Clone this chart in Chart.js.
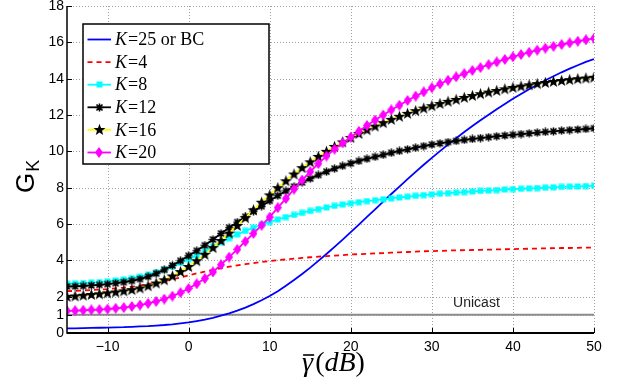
<!DOCTYPE html>
<html>
<head>
<meta charset="utf-8">
<script src="https://cdn.jsdelivr.net/npm/chart.js@4.4.0/dist/chart.umd.min.js"></script>
<style>
  html, body { margin: 0; padding: 0; background: #fff; }
</style>
</head>
<body>
<canvas id="gainChart" width="619" height="381"></canvas>
<script>
// average SNR in dB (one point per dB)
const snrDb = [-15, -14, -13, -12, -11, -10, -9, -8, -7, -6, -5, -4, -3, -2, -1,
  0, 1, 2, 3, 4, 5, 6, 7, 8, 9, 10, 11, 12, 13, 14, 15, 16, 17, 18, 19, 20,
  21, 22, 23, 24, 25, 26, 27, 28, 29, 30, 31, 32, 33, 34, 35, 36, 37, 38, 39, 40,
  41, 42, 43, 44, 45, 46, 47, 48, 49, 50];

const gainK25 = [0.25, 0.26, 0.27, 0.28, 0.29, 0.30, 0.31, 0.32, 0.34, 0.36, 0.38, 0.41, 0.44, 0.48, 0.53,
  0.58, 0.65, 0.73, 0.83, 0.95, 1.08, 1.23, 1.40, 1.59, 1.80, 2.04, 2.30, 2.60, 2.92, 3.25, 3.60,
  3.97, 4.35, 4.74, 5.14, 5.55, 5.97, 6.39, 6.81, 7.23, 7.65, 8.06, 8.47, 8.87, 9.26, 9.64,
  10.01, 10.37, 10.72, 11.06, 11.39, 11.71, 12.02, 12.32, 12.61, 12.89, 13.16, 13.42, 13.67,
  13.91, 14.13, 14.35, 14.55, 14.74, 14.92, 15.08];
const gainK4 = [2.30, 2.32, 2.34, 2.36, 2.39, 2.42, 2.46, 2.50, 2.55, 2.61, 2.68, 2.76, 2.85, 2.95, 3.06,
  3.17, 3.28, 3.38, 3.48, 3.57, 3.65, 3.72, 3.79, 3.85, 3.91, 3.96, 4.01, 4.05, 4.09, 4.13, 4.17,
  4.20, 4.23, 4.26, 4.29, 4.32, 4.34, 4.36, 4.38, 4.40, 4.42, 4.44, 4.46, 4.48, 4.50, 4.51,
  4.52, 4.54, 4.55, 4.56, 4.57, 4.58, 4.59, 4.60, 4.61, 4.62, 4.63, 4.64, 4.65, 4.66, 4.67,
  4.68, 4.68, 4.69, 4.70, 4.70];
const gainK8 = [2.72, 2.73, 2.75, 2.77, 2.80, 2.84, 2.89, 2.95, 3.02, 3.11, 3.22, 3.35, 3.50, 3.67, 3.86,
  4.06, 4.27, 4.50, 4.75, 5.00, 5.22, 5.43, 5.62, 5.80, 5.96, 6.11, 6.25, 6.38, 6.50, 6.61, 6.72,
  6.82, 6.91, 7.00, 7.07, 7.14, 7.20, 7.26, 7.31, 7.36, 7.41, 7.46, 7.50, 7.55, 7.59, 7.63,
  7.67, 7.70, 7.73, 7.76, 7.79, 7.82, 7.85, 7.87, 7.90, 7.92, 7.94, 7.96, 7.98, 8.00, 8.02,
  8.04, 8.06, 8.07, 8.09, 8.11];
const gainK12 = [2.56, 2.57, 2.59, 2.62, 2.65, 2.69, 2.74, 2.80, 2.87, 2.97, 3.10, 3.27, 3.48, 3.72, 3.98,
  4.25, 4.53, 4.83, 5.15, 5.48, 5.80, 6.10, 6.40, 6.70, 6.98, 7.28, 7.56, 7.82, 8.06, 8.29, 8.50,
  8.70, 8.88, 9.05, 9.20, 9.34, 9.47, 9.59, 9.70, 9.81, 9.92, 10.02, 10.11, 10.20, 10.29, 10.37,
  10.44, 10.51, 10.57, 10.63, 10.68, 10.73, 10.78, 10.83, 10.87, 10.91, 10.95, 10.99, 11.03,
  11.07, 11.10, 11.14, 11.17, 11.20, 11.23, 11.27];
const gainK16 = [2.01, 2.04, 2.08, 2.12, 2.16, 2.21, 2.26, 2.32, 2.39, 2.48, 2.60, 2.75, 2.93, 3.14, 3.38,
  3.66, 3.98, 4.33, 4.70, 5.09, 5.50, 5.92, 6.35, 6.78, 7.20, 7.60, 8.00, 8.38, 8.75, 9.10, 9.42,
  9.72, 10.00, 10.27, 10.52, 10.76, 10.98, 11.19, 11.39, 11.58, 11.76, 11.93, 12.09, 12.24, 12.38, 12.51,
  12.63, 12.75, 12.86, 12.97, 13.07, 13.17, 13.26, 13.35, 13.44, 13.52, 13.59, 13.66, 13.73,
  13.79, 13.85, 13.90, 13.95, 14.00, 14.04, 14.08];
const gainK20 = [1.22, 1.23, 1.25, 1.27, 1.29, 1.32, 1.36, 1.40, 1.46, 1.54, 1.63, 1.74, 1.87, 2.03, 2.22,
  2.45, 2.71, 3.00, 3.36, 3.76, 4.18, 4.60, 5.04, 5.48, 5.93, 6.38, 6.90, 7.40, 7.92, 8.42, 8.88,
  9.32, 9.74, 10.12, 10.46, 10.78, 11.10, 11.42, 11.72, 12.00, 12.28, 12.54, 12.80, 13.04, 13.27, 13.50,
  13.71, 13.91, 14.10, 14.28, 14.45, 14.61, 14.77, 14.92, 15.06, 15.20, 15.33, 15.45, 15.57,
  15.68, 15.78, 15.88, 15.97, 16.06, 16.14, 16.22];

const unicastDb = [-15, 50];
const unicastGain = [1, 1];

const xTicks = [-10, 0, 10, 20, 30, 40, 50];
const yTicks = [0, 1, 2, 4, 6, 8, 10, 12, 14, 16, 18];

// marker images (MATLAB style)
function makeMarker(w, h, draw) {
  const c = document.createElement("canvas");
  c.width = w;
  c.height = h;
  draw(c.getContext("2d"), w, h);
  return c;
}

const squareMark = makeMarker(7, 7, (g) => {
  g.fillStyle = "#00ffff";
  g.fillRect(0.5, 0.5, 6, 6);
});

const asteriskMark = makeMarker(9, 9, (g) => {
  g.strokeStyle = "#000";
  g.lineWidth = 1.6;
  g.beginPath();
  g.moveTo(1.5, 1.5); g.lineTo(7.5, 7.5);
  g.moveTo(7.5, 1.5); g.lineTo(1.5, 7.5);
  g.moveTo(4.5, 0.5); g.lineTo(4.5, 8.5);
  g.moveTo(0.5, 4.5); g.lineTo(8.5, 4.5);
  g.stroke();
});

const starMark = makeMarker(13, 13, (g) => {
  g.fillStyle = "#000";
  g.beginPath();
  for (let i = 0; i < 10; i++) {
    const r = i % 2 === 0 ? 6.3 : 2.6;
    const a = -Math.PI / 2 + (i * Math.PI) / 5;
    const px = 6.5 + r * Math.cos(a);
    const py = 7 + r * Math.sin(a);
    if (i === 0) g.moveTo(px, py);
    else g.lineTo(px, py);
  }
  g.closePath();
  g.fill();
});

const diamondMark = makeMarker(8, 11, (g) => {
  g.fillStyle = "#ff00ff";
  g.beginPath();
  g.moveTo(4, 0);
  g.lineTo(8, 5.5);
  g.lineTo(4, 11);
  g.lineTo(0, 5.5);
  g.closePath();
  g.fill();
});

function points(xs, ys) {
  return xs.map((x, i) => ({ x: x, y: ys[i] }));
}

const series = [
  { label: "K=25 or BC", data: points(snrDb, gainK25), borderColor: "#0000ff", borderWidth: 1.8, pointRadius: 0, order: 6 },
  { label: "K=4", data: points(snrDb, gainK4), borderColor: "#ff0000", borderWidth: 1.8, borderDash: [5, 4], pointRadius: 0, order: 5 },
  { label: "K=8", data: points(snrDb, gainK8), borderColor: "#00ffff", borderWidth: 1.8, pointStyle: squareMark, pointRadius: 3, order: 4 },
  { label: "K=12", data: points(snrDb, gainK12), borderColor: "#000000", borderWidth: 1.8, pointStyle: asteriskMark, pointRadius: 3, order: 3 },
  { label: "K=16", data: points(snrDb, gainK16), borderColor: "#ffff00", borderWidth: 1.8, pointStyle: starMark, pointRadius: 4, order: 2 },
  { label: "K=20", data: points(snrDb, gainK20), borderColor: "#ff00ff", borderWidth: 1.8, pointStyle: diamondMark, pointRadius: 4, order: 1 },
];

const unicastSet = {
  label: "Unicast",
  data: points(unicastDb, unicastGain),
  borderColor: "#8c8c8c",
  borderWidth: 2,
  pointRadius: 0,
  order: 7,
};

function line(ctx, x1, y1, x2, y2) {
  ctx.beginPath();
  ctx.moveTo(x1, y1);
  ctx.lineTo(x2, y2);
  ctx.stroke();
}

// grid, axes, tick labels, titles and legend drawn MATLAB-like
const matlabFrame = {
  id: "matlabFrame",
  beforeDatasetsDraw(chart) {
    const { ctx, chartArea: a, scales: { x, y } } = chart;
    ctx.save();
    ctx.strokeStyle = "#a0a0a0";
    ctx.lineWidth = 1;
    ctx.setLineDash([1, 2]);
    xTicks.forEach((v) => {
      const px = Math.round(x.getPixelForValue(v)) + 0.5;
      line(ctx, px, a.top, px, a.bottom);
    });
    yTicks.forEach((v) => {
      if (v === 0) return;
      const py = Math.round(y.getPixelForValue(v)) + 0.5;
      line(ctx, a.left, py, a.right, py);
    });
    ctx.restore();
  },
  afterDatasetsDraw(chart) {
    const { ctx, chartArea: a, scales: { x, y } } = chart;
    ctx.save();

    // axes
    ctx.strokeStyle = "#000";
    ctx.lineWidth = 1.5;
    line(ctx, a.left, a.top, a.left, a.bottom + 0.75);
    ctx.lineWidth = 2;
    line(ctx, a.left, a.bottom, a.right, a.bottom);

    // inward ticks
    ctx.lineWidth = 1;
    xTicks.forEach((v) => {
      const px = Math.round(x.getPixelForValue(v)) + 0.5;
      line(ctx, px, a.bottom, px, a.bottom - 5);
    });
    yTicks.forEach((v) => {
      const py = Math.round(y.getPixelForValue(v)) + 0.5;
      line(ctx, a.left, py, a.left + 5, py);
    });

    // tick labels
    ctx.fillStyle = "#000";
    ctx.font = "14px 'Liberation Sans', Arial, sans-serif";
    ctx.textAlign = "center";
    ctx.textBaseline = "top";
    xTicks.forEach((v) => {
      const txt = v < 0 ? "\u2212" + Math.abs(v) : String(v);
      ctx.fillText(txt, x.getPixelForValue(v), a.bottom + 7);
    });
    ctx.textAlign = "right";
    ctx.textBaseline = "middle";
    yTicks.forEach((v) => {
      ctx.fillText(String(v), a.left - 3, y.getPixelForValue(v));
    });

    // unicast label
    ctx.font = "14px 'Liberation Sans', Arial, sans-serif";
    ctx.textAlign = "center";
    ctx.textBaseline = "alphabetic";
    ctx.fillStyle = "#222";
    ctx.fillText("Unicast", x.getPixelForValue(35.5), y.getPixelForValue(1.42));

    // x title: gamma-bar (dB)
    ctx.fillStyle = "#000";
    const cx = (a.left + a.right) / 2 + 3;
    const base = 371;
    ctx.textAlign = "left";
    ctx.font = "italic 28px 'Liberation Serif', 'DejaVu Serif', serif";
    const wG = ctx.measureText("\u03b3").width;
    ctx.font = "28px 'Liberation Serif', 'DejaVu Serif', serif";
    const wP = ctx.measureText("(").width;
    ctx.font = "italic 28px 'Liberation Serif', 'DejaVu Serif', serif";
    const wDB = ctx.measureText("dB").width;
    const total = wG + 2 * wP + wDB + 2;
    let tx = cx - total / 2;
    ctx.fillText("\u03b3", tx, base);
    ctx.lineWidth = 1.6;
    line(ctx, tx + 1, base - 16, tx + wG + 1, base - 16);
    tx += wG + 2;
    ctx.font = "28px 'Liberation Serif', 'DejaVu Serif', serif";
    ctx.fillText("(", tx, base);
    tx += wP;
    ctx.font = "italic 28px 'Liberation Serif', 'DejaVu Serif', serif";
    ctx.fillText("dB", tx, base);
    tx += wDB;
    ctx.font = "28px 'Liberation Serif', 'DejaVu Serif', serif";
    ctx.fillText(")", tx, base);

    // y title: G_K
    ctx.save();
    ctx.translate(34, 193);
    ctx.rotate(-Math.PI / 2);
    ctx.font = "26px 'Liberation Sans', Arial, sans-serif";
    ctx.fillText("G", 0, 0);
    const wGk = ctx.measureText("G").width;
    ctx.font = "18px 'Liberation Sans', Arial, sans-serif";
    ctx.fillText("K", wGk + 1, 5);
    ctx.restore();

    // legend
    const lx = 83, ly = 24, lw = 186, lh = 140;
    ctx.fillStyle = "#fff";
    ctx.fillRect(lx, ly, lw, lh);
    ctx.strokeStyle = "#000";
    ctx.lineWidth = 1.5;
    ctx.strokeRect(lx, ly, lw, lh);
    const marks = [null, null, squareMark, asteriskMark, starMark, diamondMark];
    series.forEach((s, i) => {
      const ry = 39.5 + i * 22.6;
      ctx.save();
      ctx.strokeStyle = s.borderColor;
      ctx.lineWidth = s.borderWidth;
      ctx.setLineDash(s.borderDash || []);
      line(ctx, 87.5, ry, 111, ry);
      ctx.restore();
      const m = marks[i];
      if (m) ctx.drawImage(m, Math.round(99.25 - m.width / 2), Math.round(ry - m.height / 2));
      ctx.fillStyle = "#000";
      ctx.textBaseline = "middle";
      ctx.textAlign = "left";
      ctx.font = "italic 18px 'Liberation Serif', 'DejaVu Serif', serif";
      ctx.fillText(s.label.charAt(0), 115, ry + 1);
      const wk = ctx.measureText(s.label.charAt(0)).width;
      ctx.font = "18px 'Liberation Serif', 'DejaVu Serif', serif";
      ctx.fillText(s.label.slice(1), 115 + wk + 1, ry + 1);
    });

    ctx.restore();
  },
};

const ctx = document.getElementById("gainChart").getContext("2d");
const gainChart = new Chart(ctx, {
  type: "line",
  data: {
    datasets: series.concat([unicastSet]),
  },
  options: {
    responsive: false,
    animation: false,
    devicePixelRatio: 1,
    layout: {
      padding: { left: 67, right: 25, top: 6, bottom: 48 },
    },
    plugins: {
      legend: { display: false },
      tooltip: { enabled: false },
    },
    elements: {
      line: { tension: 0, fill: false },
      point: { borderWidth: 0 },
    },
    scales: {
      x: { type: "linear", min: -15, max: 50, display: false },
      y: { type: "linear", min: 0, max: 18, display: false },
    },
  },
  plugins: [matlabFrame],
});
</script>
</body>
</html>
